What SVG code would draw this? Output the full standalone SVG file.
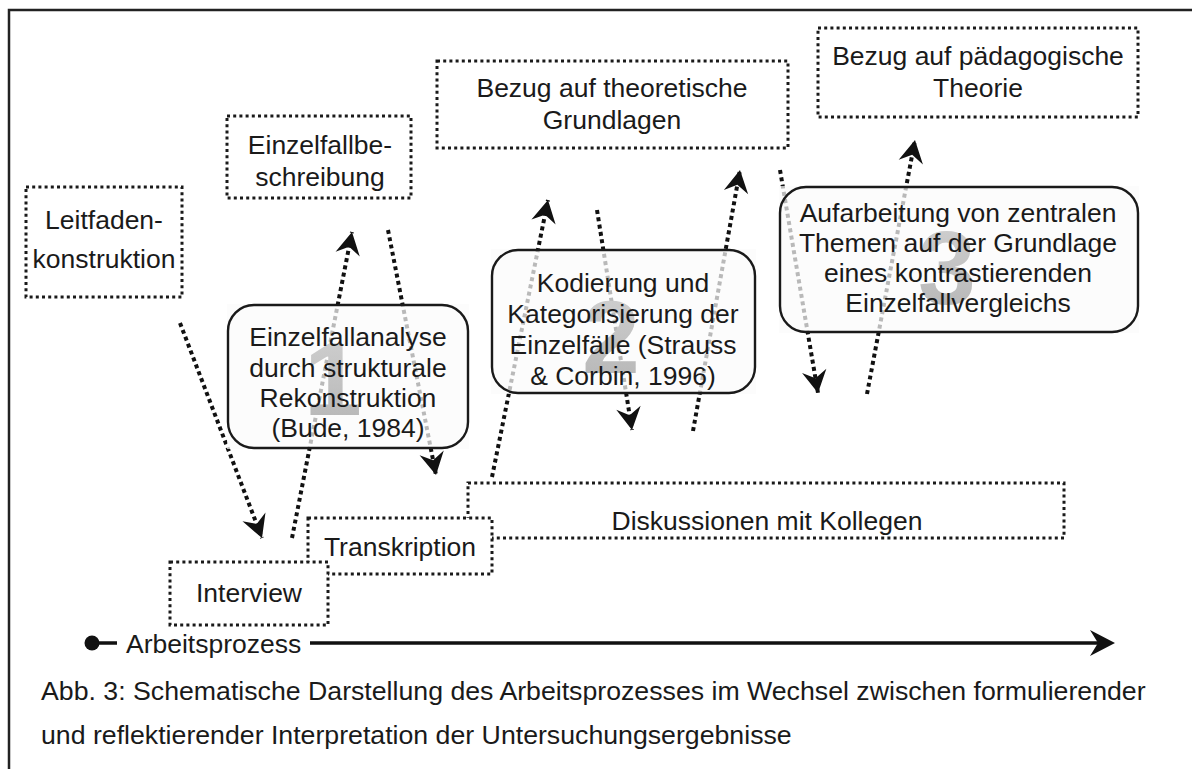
<svg xmlns="http://www.w3.org/2000/svg" width="1192" height="769" viewBox="0 0 1192 769">
  <style>
    text { font-family: "Liberation Sans", Arial, Helvetica, sans-serif; font-size: 26.5px; fill: #1a1a1a; }
    .c { text-anchor: middle; }
    .dotbox { fill: #ffffff; stroke: #1a1a1a; stroke-width: 3; stroke-dasharray: 3 3.2; }
    .step-bg { fill: #fbfbfb; fill-opacity: 0.72; }
    .step { fill: none; stroke: #1a1a1a; stroke-width: 2.4; }
    .num { font-weight: bold; font-size: 104px; fill: url(#numfill); text-anchor: middle; }
    .flow { fill: none; stroke: #111; stroke-width: 4; stroke-dasharray: 4 3.4; }
    .frame { fill: none; stroke: #222; stroke-width: 2.5; }
    .caption { font-size: 26.7px; }
  </style>
  <defs>
    <marker id="head" markerUnits="userSpaceOnUse" markerWidth="30" markerHeight="30" viewBox="-24 -14 28 28" refX="0" refY="0" orient="auto">
      <path d="M0,0 L-21,-11.5 L-14,0 L-21,11.5 Z" fill="#111"/>
    </marker>
    <linearGradient id="numfill" x1="0" y1="0" x2="0" y2="1">
      <stop offset="0" stop-color="#d2d2d2"/>
      <stop offset="1" stop-color="#b4b4b4"/>
    </linearGradient>
  </defs>

  <rect width="1192" height="769" fill="#ffffff"/>
  <!-- outer frame: top and left edges -->
  <path class="frame" d="M9,769 L9,10 L1192,10"/>

  <!-- dotted boxes at the bottom (drawn first so later ones overlap) -->
  <g id="diskussionen">
    <rect class="dotbox" x="468" y="483" width="596" height="55"/>
    <text class="c" x="767" y="530">Diskussionen mit Kollegen</text>
  </g>
  <g id="transkription">
    <rect class="dotbox" x="308" y="518" width="184" height="56"/>
    <text class="c" x="400" y="556">Transkription</text>
  </g>
  <g id="interview">
    <rect class="dotbox" x="170" y="562" width="158" height="63"/>
    <text class="c" x="249" y="602">Interview</text>
  </g>

  <g id="leitfaden">
    <rect class="dotbox" x="26" y="187" width="156" height="110"/>
    <text class="c" x="104" y="229">Leitfaden-</text>
    <text class="c" x="104" y="268">konstruktion</text>
  </g>
  <g id="einzelfallbeschreibung">
    <rect class="dotbox" x="227" y="116" width="184" height="82"/>
    <text class="c" x="320" y="154">Einzelfallbe-</text>
    <text class="c" x="320" y="186">schreibung</text>
  </g>
  <g id="theoretische-grundlagen">
    <rect class="dotbox" x="437" y="61" width="351" height="87"/>
    <text class="c" x="612" y="97">Bezug auf theoretische</text>
    <text class="c" x="612" y="129">Grundlagen</text>
  </g>
  <g id="paedagogische-theorie">
    <rect class="dotbox" x="818" y="28" width="320" height="89"/>
    <text class="c" x="978" y="65">Bezug auf pädagogische</text>
    <text class="c" x="978" y="97">Theorie</text>
  </g>

  <!-- dotted process arrows -->
  <g id="connectors">
    <path class="flow" d="M180,323 L262,538" marker-end="url(#head)"/>
    <path class="flow" d="M292,538 L352,232" marker-end="url(#head)"/>
    <path class="flow" d="M388,230 L436,475" marker-end="url(#head)"/>
    <path class="flow" d="M492,477 L548,200" marker-end="url(#head)"/>
    <path class="flow" d="M597,210 L632,430" marker-end="url(#head)"/>
    <path class="flow" d="M693,431 L740,170" marker-end="url(#head)"/>
    <path class="flow" d="M780,170 L818,393" marker-end="url(#head)"/>
    <path class="flow" d="M867,394 L915,140" marker-end="url(#head)"/>
  </g>

  <!-- analysis steps: translucent panels over the arrows -->
  <g id="step1">
    <rect class="step-bg" x="227" y="304" width="242" height="145"/>
    <text class="num" x="333" y="415">1</text>
    <rect class="step" x="228" y="305" width="240" height="143" rx="26"/>
    <text class="c" x="348" y="346">Einzelfallanalyse</text>
    <text class="c" x="348" y="377">durch strukturale</text>
    <text class="c" x="348" y="407">Rekonstruktion</text>
    <text class="c" x="348" y="437">(Bude, 1984)</text>
  </g>
  <g id="step2">
    <rect class="step-bg" x="491" y="249" width="265" height="145"/>
    <text class="num" x="611" y="373">2</text>
    <rect class="step" x="492" y="250" width="263" height="143" rx="26"/>
    <text class="c" x="623" y="292">Kodierung und</text>
    <text class="c" x="623" y="323">Kategorisierung der</text>
    <text class="c" x="623" y="354">Einzelfälle (Strauss</text>
    <text class="c" x="623" y="385">&amp; Corbin, 1996)</text>
  </g>
  <g id="step3">
    <rect class="step-bg" x="779" y="186" width="360" height="147"/>
    <text class="num" x="947" y="304">3</text>
    <rect class="step" x="780" y="187" width="358" height="145" rx="26"/>
    <text class="c" x="958" y="222">Aufarbeitung von zentralen</text>
    <text class="c" x="958" y="252">Themen auf der Grundlage</text>
    <text class="c" x="958" y="282">eines kontrastierenden</text>
    <text class="c" x="958" y="312">Einzelfallvergleichs</text>
  </g>

  <!-- time axis -->
  <g id="arbeitsprozess">
    <circle cx="92" cy="643" r="7.5" fill="#111"/>
    <line x1="92" y1="643" x2="117" y2="643" stroke="#111" stroke-width="3.5"/>
    <text x="126" y="653">Arbeitsprozess</text>
    <line x1="310" y1="643" x2="1098" y2="643" stroke="#111" stroke-width="3.5"/>
    <path d="M1115,643 L1090,630 L1098,643 L1090,656 Z" fill="#111"/>
  </g>

  <g id="caption">
    <text class="caption" x="41" y="700">Abb. 3: Schematische Darstellung des Arbeitsprozesses im Wechsel zwischen formulierender</text>
    <text class="caption" x="41" y="744">und reflektierender Interpretation der Untersuchungsergebnisse</text>
  </g>
</svg>
